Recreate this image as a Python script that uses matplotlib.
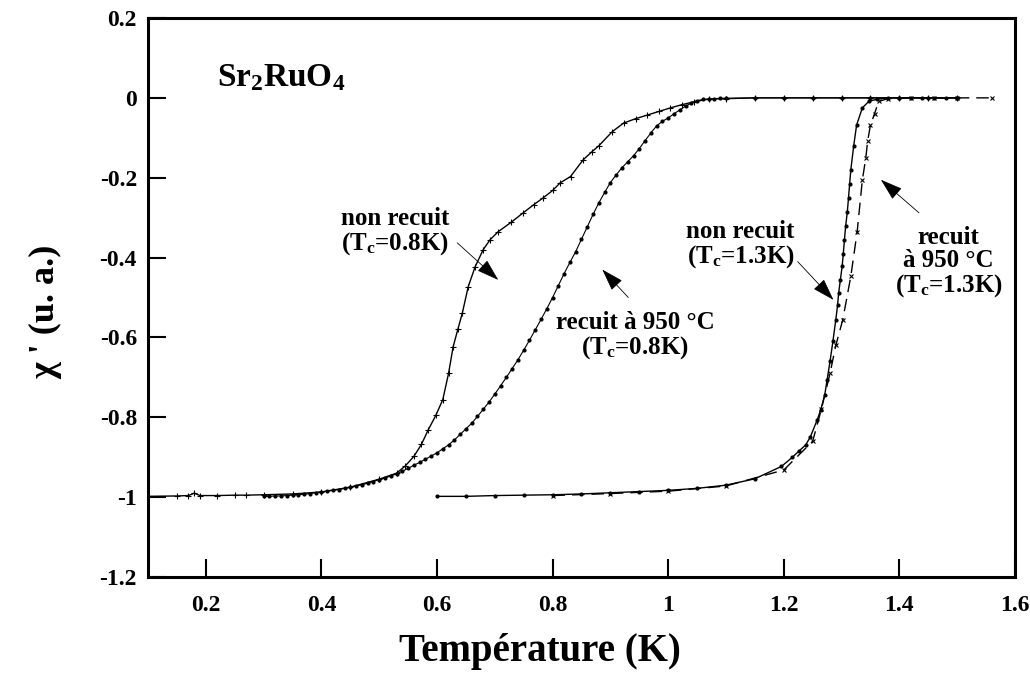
import numpy as np
import matplotlib
matplotlib.use('Agg')
import matplotlib.pyplot as plt

# non recuit, Tc=0.8K (trait plein, petites croix)
T_nr08 = [0.10, 0.15, 0.17, 0.18, 0.19, 0.22, 0.25, 0.27, 0.30, 0.35, 0.40, 0.45,
          0.50, 0.53, 0.545, 0.56, 0.573, 0.585, 0.598, 0.61, 0.62, 0.628, 0.636,
          0.644, 0.654, 0.666, 0.68, 0.692, 0.706, 0.728, 0.749, 0.767, 0.784,
          0.800, 0.813, 0.831, 0.853, 0.868, 0.88, 0.903, 0.923, 0.944, 0.964,
          0.984, 1.004, 1.024, 1.044, 1.07, 1.10, 1.15, 1.20, 1.25, 1.30, 1.35,
          1.40, 1.45, 1.50]
chi_nr08 = [-0.998, -0.997, -0.996, -0.990, -0.996, -0.996, -0.995, -0.995, -0.994,
            -0.992, -0.987, -0.975, -0.955, -0.940, -0.922, -0.898, -0.868, -0.831,
            -0.795, -0.756, -0.690, -0.623, -0.580, -0.538, -0.473, -0.423, -0.380,
            -0.355, -0.335, -0.312, -0.288, -0.268, -0.250, -0.232, -0.213, -0.197,
            -0.155, -0.135, -0.120, -0.085, -0.063, -0.052, -0.043, -0.034, -0.025,
            -0.017, -0.010, -0.003, -0.002, 0.0, 0.0, 0.0, 0.0, 0.0, 0.0, 0.0, 0.0]

# recuit a 950 C, Tc=0.8K (points serres)
T_r08 = [0.30, 0.31, 0.32, 0.33, 0.34, 0.35, 0.36, 0.37, 0.38, 0.39, 0.40, 0.41,
         0.42, 0.43, 0.44, 0.45, 0.46, 0.47, 0.48, 0.49, 0.50, 0.51, 0.52, 0.53,
         0.54, 0.55, 0.56, 0.57, 0.58, 0.59, 0.60, 0.61, 0.62, 0.63, 0.64, 0.65,
         0.66, 0.67, 0.68, 0.69, 0.70, 0.71, 0.72, 0.73, 0.74, 0.75, 0.76, 0.77,
         0.78, 0.79, 0.80, 0.81, 0.82, 0.83, 0.84, 0.85, 0.86, 0.87, 0.88, 0.89,
         0.90, 0.91, 0.92, 0.93, 0.94, 0.95, 0.96, 0.97, 0.98, 0.99, 1.00, 1.01,
         1.02, 1.03, 1.04, 1.05, 1.06, 1.07, 1.08, 1.09, 1.10, 1.15, 1.20, 1.25,
         1.30, 1.35, 1.40, 1.45, 1.50]
chi_r08 = [-0.998, -0.998, -0.997, -0.997, -0.996, -0.995, -0.994, -0.993, -0.991,
           -0.989, -0.987, -0.985, -0.983, -0.981, -0.978, -0.975, -0.972, -0.969,
           -0.965, -0.961, -0.956, -0.952, -0.947, -0.942, -0.935, -0.928, -0.920,
           -0.913, -0.905, -0.897, -0.889, -0.879, -0.869, -0.857, -0.843, -0.829,
           -0.815, -0.798, -0.780, -0.762, -0.742, -0.721, -0.700, -0.678, -0.656,
           -0.632, -0.607, -0.581, -0.555, -0.528, -0.500, -0.470, -0.440, -0.412,
           -0.385, -0.354, -0.323, -0.292, -0.263, -0.237, -0.212, -0.193, -0.175,
           -0.160, -0.145, -0.127, -0.107, -0.088, -0.070, -0.059, -0.050, -0.040,
           -0.030, -0.021, -0.013, -0.007, -0.004, -0.003, -0.002, -0.001, -0.001,
           0.0, 0.0, 0.0, 0.0, 0.0, 0.0, 0.0, 0.0]

# non recuit, Tc=1.3K (trait plein, points)
T_nr13 = [0.60, 0.65, 0.70, 0.75, 0.80, 0.85, 0.90, 0.95, 1.00, 1.05, 1.10, 1.15,
          1.196, 1.215, 1.226, 1.238, 1.246, 1.258, 1.264, 1.271, 1.275, 1.28,
          1.285, 1.29, 1.293, 1.295, 1.298, 1.301, 1.303, 1.305, 1.307, 1.310,
          1.312, 1.314, 1.316, 1.321, 1.326, 1.336, 1.347, 1.362, 1.38, 1.40,
          1.42, 1.44, 1.46, 1.48, 1.50]
chi_nr13 = [-0.998, -0.998, -0.996, -0.995, -0.994, -0.992, -0.989, -0.986, -0.983,
            -0.978, -0.970, -0.954, -0.923, -0.900, -0.885, -0.869, -0.849, -0.806,
            -0.781, -0.743, -0.706, -0.660, -0.610, -0.556, -0.520, -0.488, -0.455,
            -0.422, -0.390, -0.355, -0.322, -0.285, -0.250, -0.215, -0.180, -0.120,
            -0.068, -0.025, -0.009, -0.003, 0.0, 0.0, 0.0, 0.0, 0.0, 0.0, 0.0]

# recuit a 950 C, Tc=1.3K (tirets, croix)
T_r13 = [0.80, 0.90, 1.00, 1.10, 1.20, 1.25, 1.265, 1.28, 1.29, 1.302, 1.316,
         1.327, 1.336, 1.342, 1.345, 1.35, 1.357, 1.364, 1.38, 1.42, 1.46, 1.50, 1.56]
chi_r13 = [-0.996, -0.991, -0.985, -0.972, -0.932, -0.860, -0.780, -0.690, -0.620,
           -0.556, -0.447, -0.335, -0.205, -0.150, -0.109, -0.068, -0.040, -0.009,
           -0.002, 0.0, 0.0, 0.0, 0.0]

x_ticks = [0.2, 0.4, 0.6, 0.8, 1.0, 1.2, 1.4, 1.6]
x_labels = ['0.2', '0.4', '0.6', '0.8', '1', '1.2', '1.4', '1.6']
y_ticks = [0.2, 0.0, -0.2, -0.4, -0.6, -0.8, -1.0, -1.2]
y_labels = ['0.2', '0', '-0.2', '-0.4', '-0.6', '-0.8', '-1', '-1.2']

plt.rcParams['font.family'] = ['Liberation Serif', 'DejaVu Serif']
plt.rcParams['font.weight'] = 'bold'
plt.rcParams['mathtext.fontset'] = 'custom'
plt.rcParams['mathtext.rm'] = 'Liberation Serif:bold'
plt.rcParams['mathtext.it'] = 'Liberation Serif:bold'
plt.rcParams['mathtext.bf'] = 'Liberation Serif:bold'

fig = plt.figure(figsize=(10.3, 6.77), dpi=100)
ax = fig.add_axes([0.1437, 0.1477, 0.8417, 0.8257])

ax.plot(T_nr08, chi_nr08, color='k', lw=1.0, marker='+', markersize=4, mew=0.8)
ax.plot(T_r08, chi_r08, color='k', lw=0.8, marker='o', markersize=3, mew=0)
ax.plot(T_nr13, chi_nr13, color='k', lw=1.0, marker='o', markersize=3, mew=0)
ax.plot(T_r13, chi_r13, color='k', lw=1.0, linestyle=(0, (9, 5)), marker='x',
        markersize=3.5, mew=0.8)

ax.set_xlim(0.1, 1.6)
ax.set_ylim(-1.2, 0.2)
ax.set_xticks(x_ticks)
ax.set_xticklabels(x_labels)
ax.set_yticks(y_ticks)
ax.set_yticklabels(y_labels)
ax.tick_params(direction='in', length=13, width=1.5, labelsize=17, top=False, right=False)
ax.tick_params(axis='x', pad=13)
ax.tick_params(axis='y', pad=8)
for s in ax.spines.values():
    s.set_linewidth(2.2)

ax.set_xlabel('Température (K)', fontsize=28, fontweight='bold')
ax.xaxis.set_label_coords(0.452, -0.100)
ax.set_ylabel("χ ' (u. a.)", fontsize=26, fontweight='bold')
ax.yaxis.set_label_coords(-0.099, 0.474)

ax.text(0.330, 0.05, r'Sr$_\mathrm{2}$RuO$_\mathrm{4}$', fontsize=24, ha='center', va='center')

fs = 18
arrow = dict(arrowstyle='-|>,head_length=1.4,head_width=0.45', color='k', lw=0.6,
             shrinkA=0, shrinkB=0)
ax.text(0.528, -0.335, 'non recuit\n(T$_\\mathrm{c}$=0.8K)', fontsize=fs,
        ha='center', va='center', linespacing=1.0)
ax.annotate('', xy=(0.706, -0.456), xytext=(0.635, -0.363), arrowprops=arrow)

ax.text(0.943, -0.596, 'recuit à 950 °C\n(T$_\\mathrm{c}$=0.8K)', fontsize=fs,
        ha='center', va='center', linespacing=1.0)
ax.annotate('', xy=(0.886, -0.43), xytext=(0.931, -0.5), arrowprops=arrow)

ax.text(1.125, -0.368, 'non recuit\n(T$_\\mathrm{c}$=1.3K)', fontsize=fs,
        ha='center', va='center', linespacing=1.0)
ax.annotate('', xy=(1.286, -0.506), xytext=(1.224, -0.41), arrowprops=arrow)

ax.text(1.485, -0.413, 'recuit\nà 950 °C\n(T$_\\mathrm{c}$=1.3K)', fontsize=fs,
        ha='center', va='center', linespacing=1.0)
ax.annotate('', xy=(1.368, -0.205), xytext=(1.434, -0.288), arrowprops=arrow)

fig.savefig('out.png', dpi=100)
